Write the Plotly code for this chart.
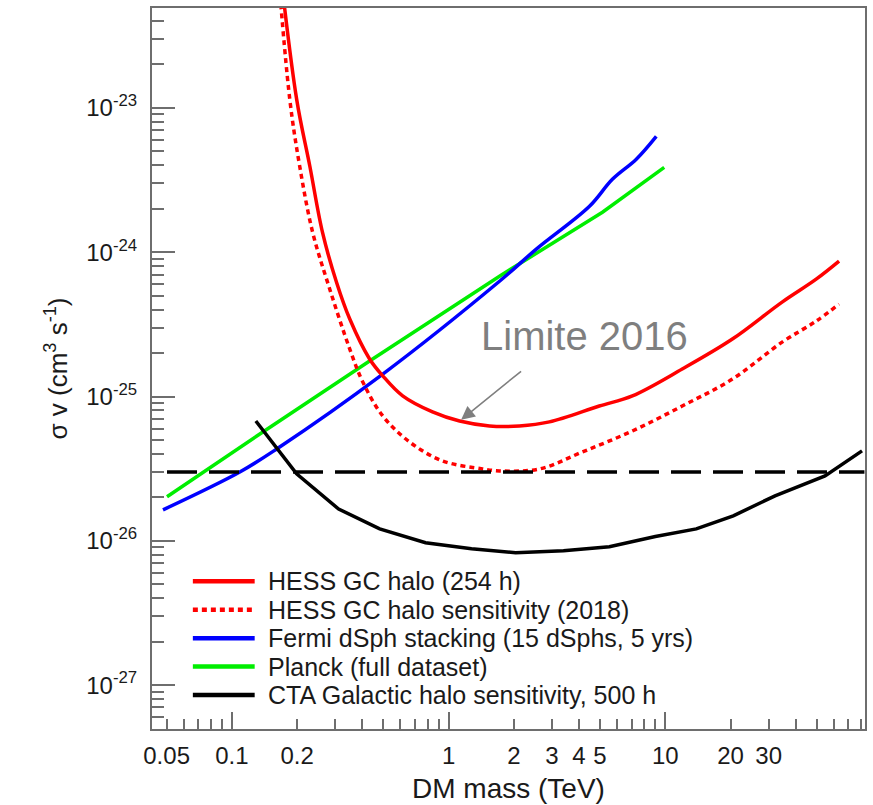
import numpy as np
import plotly.graph_objects as go

# ---------------- data ----------------
hess_x = [0.165, 0.199, 0.229, 0.262, 0.304, 0.350, 0.432, 0.497, 0.614, 0.843, 1.124,
          1.545, 2.12, 2.92, 4.96, 7.05, 11.97, 20.4, 34.6, 49.7, 63.4]
hess_y = [1.07e-22, 1.15e-23, 3.94e-24, 1.37e-24, 6.19e-25, 3.44e-25, 1.82e-25, 1.39e-25,
          1.01e-25, 7.82e-26, 6.76e-26, 6.25e-26, 6.25e-26, 6.67e-26, 8.59e-26, 1.01e-25,
          1.55e-25, 2.50e-25, 4.51e-25, 6.50e-25, 8.67e-25]

sens_x = [0.1618, 0.185, 0.2056, 0.236, 0.283, 0.350, 0.402, 0.497, 0.661, 0.937, 1.435,
          1.718, 2.63, 4.15, 7.05, 11.97, 20.4, 34.6, 49.7, 63.4]
sens_y = [1.07e-22, 1.15e-23, 3.94e-24, 1.37e-24, 5.54e-25, 2.13e-25, 1.26e-25, 7.33e-26,
          4.84e-26, 3.58e-26, 3.15e-26, 3.05e-26, 3.15e-26, 4.13e-26, 5.77e-26, 8.59e-26,
          1.32e-25, 2.38e-25, 3.33e-25, 4.37e-25]

fermi_x = [0.0481, 0.1088, 0.161, 0.497, 1.718, 2.54, 4.47, 5.70, 7.35, 9.09]
fermi_y = [1.64e-26, 3.0e-26, 4.33e-26, 1.43e-25, 6.29e-25, 1.05e-24, 2.08e-24, 3.20e-24,
           4.41e-24, 6.35e-24]

planck_x = [0.0502, 0.139, 0.432, 1.718, 5.13, 9.89]
planck_y = [2.02e-26, 5.68e-26, 1.76e-25, 6.82e-25, 1.89e-24, 3.87e-24]

cta_x = [0.129, 0.199, 0.311, 0.481, 0.783, 1.276, 2.04, 3.39, 5.52, 9.0, 13.9, 20.6,
         32.1, 54.6, 80.9]
cta_y = [6.76e-26, 2.91e-26, 1.66e-26, 1.21e-26, 9.69e-27, 8.80e-27, 8.26e-27, 8.53e-27,
         9.09e-27, 1.07e-26, 1.21e-26, 1.49e-26, 2.05e-26, 2.82e-26, 4.20e-26]

relic_x = [0.0502, 83.0]
relic_y = [3e-26, 3e-26]

x_label_vals = [0.05, 0.1, 0.2, 1, 2, 3, 4, 5, 10, 20, 30]
x_label_text = ["0.05", "0.1", "0.2", "1", "2", "3", "4", "5", "10", "20", "30"]
x_minor_vals = [0.06, 0.07, 0.08, 0.09, 0.3, 0.4, 0.5, 0.6, 0.7, 0.8, 0.9,
                6, 7, 8, 9, 40, 50, 60, 70, 80]
x_decade_vals = [0.1, 1, 10]

y_major_vals = [1e-27, 1e-26, 1e-25, 1e-24, 1e-23]
y_major_text = ["10<sup>-27</sup>", "10<sup>-26</sup>", "10<sup>-25</sup>",
                "10<sup>-24</sup>", "10<sup>-23</sup>"]
y_minor_vals = [m * 10.0 ** e for e in range(-28, -22) for m in range(2, 10)]

legend_names = ["HESS GC halo (254 h)", "HESS GC halo sensitivity (2018)",
                "Fermi dSph stacking (15 dSphs, 5 yrs)", "Planck (full dataset)",
                "CTA Galactic halo sensitivity, 500 h"]

# ---------------- styles ----------------
FONT = "Liberation Sans, Arial, Helvetica, sans-serif"
AXC = "#6e6e6e"
TXT = "#1a1a1a"
RED, BLUE, GREEN, BLACK = "#ff0000", "#0000ff", "#00ee00", "#000000"
LW = 3.5
DOT = "5px,4px"
legend_styles = [(RED, "solid"), (RED, DOT), (BLUE, "solid"), (GREEN, "solid"), (BLACK, "solid")]

xr = [np.log10(0.0428), np.log10(83.5)]
yr = [-27.304, -22.308]

fig = go.Figure()
fig.add_trace(go.Scatter(x=relic_x, y=relic_y, mode="lines", xaxis="x2",
                         line=dict(color=BLACK, width=LW, dash="30px,12px"),
                         name="Thermal relic", showlegend=False))
fig.add_trace(go.Scatter(x=planck_x, y=planck_y, mode="lines",
                         line=dict(color=GREEN, width=LW), name=legend_names[3], showlegend=False))
fig.add_trace(go.Scatter(x=fermi_x, y=fermi_y, mode="lines", line_shape="spline",
                         line=dict(color=BLUE, width=LW), name=legend_names[2], showlegend=False))
fig.add_trace(go.Scatter(x=cta_x, y=cta_y, mode="lines",
                         line=dict(color=BLACK, width=LW), name=legend_names[4], showlegend=False))
fig.add_trace(go.Scatter(x=sens_x, y=sens_y, mode="lines", line_shape="spline",
                         line=dict(color=RED, width=LW, dash=DOT), name=legend_names[1], showlegend=False))
fig.add_trace(go.Scatter(x=hess_x, y=hess_y, mode="lines", line_shape="spline",
                         line=dict(color=RED, width=LW), name=legend_names[0], showlegend=False))

# ---------------- manual legend (ROOT style) ----------------
leg_x0, leg_x1, leg_tx = 0.0573, 0.144, 0.1594
leg_y = [0.205, 0.1655, 0.126, 0.0866, 0.0471]
for (col, dash), name, yy in zip(legend_styles, legend_names, leg_y):
    fig.add_shape(type="line", xref="paper", yref="paper", x0=leg_x0, x1=leg_x1, y0=yy, y1=yy,
                  line=dict(color=col, width=4.5, dash=dash))
    fig.add_annotation(xref="paper", yref="paper", x=leg_tx, y=yy, text=name, showarrow=False,
                       xanchor="left", yanchor="middle", font=dict(family=FONT, size=25, color=TXT))

# ---------------- "Limite 2016" annotation ----------------
fig.add_annotation(xref="paper", yref="paper", x=0.607, y=0.5457, text="Limite 2016",
                   showarrow=False, xanchor="center", yanchor="middle",
                   font=dict(family=FONT, size=40, color="#7f7f7f"))
fig.add_annotation(xref="x", yref="y", x=np.log10(hess_x[10]), y=np.log10(hess_y[10]),
                   text="", showarrow=True, arrowhead=2, arrowsize=1.7, arrowwidth=1.6,
                   arrowcolor="#7f7f7f", ax=63, ay=-51, standoff=2)

# ---------------- axes ----------------
common = dict(showgrid=False, zeroline=False, ticks="inside", tickcolor=AXC)
fig.update_layout(
    width=873, height=805,
    margin=dict(l=152, r=6, t=8, b=75),
    paper_bgcolor="white", plot_bgcolor="white",
    font=dict(family=FONT, color=TXT),
    showlegend=False,
    xaxis=dict(type="log", range=xr, tickmode="array", tickvals=x_label_vals, ticktext=x_label_text,
               ticklen=10, tickwidth=1.5, showline=True, linecolor=AXC, linewidth=2, mirror=True,
               tickfont=dict(size=24, color=TXT), ticklabelstandoff=4,
               minor=dict(tickmode="array", tickvals=x_minor_vals, ticks="inside", ticklen=10,
                          tickwidth=1.5, tickcolor=AXC, showgrid=False),
               title=dict(text="DM mass (TeV)", font=dict(size=28, color=TXT), standoff=11),
               **common),
    xaxis2=dict(type="log", range=xr, overlaying="x", anchor="y", side="bottom",
                tickmode="array", tickvals=x_decade_vals, ticklen=17, tickwidth=1.5,
                showticklabels=False, showline=False, **common),
    yaxis=dict(type="log", range=yr, tickmode="array", tickvals=y_major_vals, ticktext=y_major_text,
               ticklen=23, tickwidth=1.5, showline=True, linecolor=AXC, linewidth=2, mirror=True,
               tickfont=dict(size=24, color=TXT), ticklabelstandoff=8,
               minor=dict(tickmode="array", tickvals=y_minor_vals, ticks="inside", ticklen=12,
                          tickwidth=1.5, tickcolor=AXC, showgrid=False),
               title=dict(text="σ v (cm<sup>3</sup> s<sup>-1</sup>)", font=dict(size=26, color=TXT),
                          standoff=11),
               **common),
)

fig.write_html("out.html")
